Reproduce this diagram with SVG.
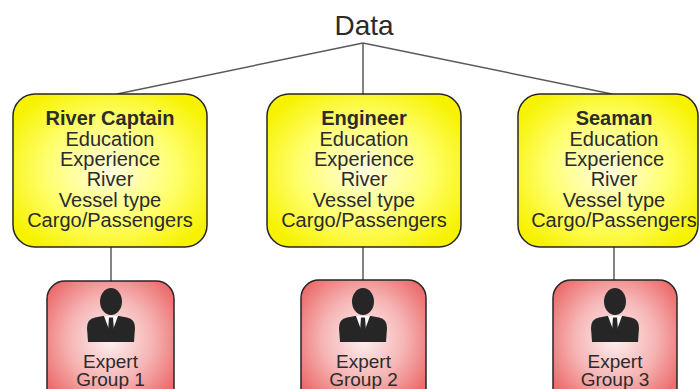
<svg xmlns="http://www.w3.org/2000/svg" xmlns:xlink="http://www.w3.org/1999/xlink" width="700" height="389" viewBox="0 0 700 389">
  <style>
    .txt { font-family: "Liberation Sans", Arial, sans-serif; fill: #2b2b2b; text-anchor: middle; }
    .role { font-size: 20px; }
    .exp { font-size: 19px; }
    .title { font-weight: bold; }
    .data { font-size: 28px; }
    .ybox { fill: url(#yg); stroke: #262626; stroke-width: 1.5; }
    .rbox { fill: url(#rg); stroke: #262626; stroke-width: 1.5; }
    .conn { stroke: #5a5a5a; stroke-width: 1.5; fill: none; }
    .icon { fill: #262626; }
  </style>
  <defs>
    <radialGradient id="yg" cx="50%" cy="50%" r="60%">
      <stop offset="0" stop-color="#fffde0"/>
      <stop offset="0.55" stop-color="#ffff70"/>
      <stop offset="1" stop-color="#f7f200"/>
    </radialGradient>
    <radialGradient id="rg" cx="50%" cy="45%" r="60%">
      <stop offset="0" stop-color="#fdf0f0"/>
      <stop offset="0.55" stop-color="#f6b4b4"/>
      <stop offset="1" stop-color="#ec6c6c"/>
    </radialGradient>
    <g id="person">
      <ellipse class="icon" cx="0" cy="301.5" rx="11" ry="13.5"/>
      <path class="icon" d="M-8,316 L-16,317.5 Q-24,319 -24,328 L-23,342 L23,342 L24,328 Q24,319 16,317.5 L8,316 Z"/>
      <path fill="#ffffff" d="M-7,316 L7,316 L0,335 Z"/>
      <path class="icon" d="M-2,317.5 L2,317.5 L3,331 L0,336 L-3,331 Z"/>
    </g>
  </defs>

  <g id="connectors">
    <line class="conn" x1="363" y1="43" x2="117" y2="94"/>
    <line class="conn" x1="363" y1="43" x2="363" y2="94"/>
    <line class="conn" x1="363" y1="43" x2="612" y2="94"/>
    <line class="conn" x1="111" y1="247" x2="111" y2="281"/>
    <line class="conn" x1="363" y1="247" x2="363" y2="280"/>
    <line class="conn" x1="614" y1="247" x2="614" y2="280"/>
  </g>

  <g id="data">
    <text class="txt data" x="364" y="35">Data</text>
  </g>

  <g id="river-captain">
    <rect class="ybox" x="13" y="94" width="194" height="153" rx="22" ry="22"/>
    <text class="txt role title" x="110" y="125">River Captain</text>
    <text class="txt role" x="110" y="145.5">Education</text>
    <text class="txt role" x="110" y="166">Experience</text>
    <text class="txt role" x="110" y="186">River</text>
    <text class="txt role" x="110" y="206.5">Vessel type</text>
    <text class="txt role" x="110" y="227">Cargo/Passengers</text>
  </g>

  <g id="engineer">
    <rect class="ybox" x="267" y="94" width="194" height="153" rx="22" ry="22"/>
    <text class="txt role title" x="364" y="125">Engineer</text>
    <text class="txt role" x="364" y="145.5">Education</text>
    <text class="txt role" x="364" y="166">Experience</text>
    <text class="txt role" x="364" y="186">River</text>
    <text class="txt role" x="364" y="206.5">Vessel type</text>
    <text class="txt role" x="364" y="227">Cargo/Passengers</text>
  </g>

  <g id="seaman">
    <rect class="ybox" x="518" y="94" width="180" height="153" rx="22" ry="22"/>
    <text class="txt role title" x="614" y="125">Seaman</text>
    <text class="txt role" x="614" y="145.5">Education</text>
    <text class="txt role" x="614" y="166">Experience</text>
    <text class="txt role" x="614" y="186">River</text>
    <text class="txt role" x="614" y="206.5">Vessel type</text>
    <text class="txt role" x="614" y="227">Cargo/Passengers</text>
  </g>

  <g id="expert-group-1">
    <rect class="rbox" x="47" y="281" width="127" height="130" rx="18" ry="18"/>
    <use xlink:href="#person" href="#person" transform="translate(111,0)"/>
    <text class="txt exp" x="110.5" y="368">Expert</text>
    <text class="txt exp" x="110.5" y="385.5">Group 1</text>
  </g>

  <g id="expert-group-2">
    <rect class="rbox" x="301" y="280" width="125" height="130" rx="18" ry="18"/>
    <use xlink:href="#person" href="#person" transform="translate(363,0)"/>
    <text class="txt exp" x="363.5" y="368">Expert</text>
    <text class="txt exp" x="363.5" y="385.5">Group 2</text>
  </g>

  <g id="expert-group-3">
    <rect class="rbox" x="553" y="280" width="124" height="130" rx="18" ry="18"/>
    <use xlink:href="#person" href="#person" transform="translate(615,0)"/>
    <text class="txt exp" x="615" y="368">Expert</text>
    <text class="txt exp" x="615" y="385.5">Group 3</text>
  </g>
</svg>
